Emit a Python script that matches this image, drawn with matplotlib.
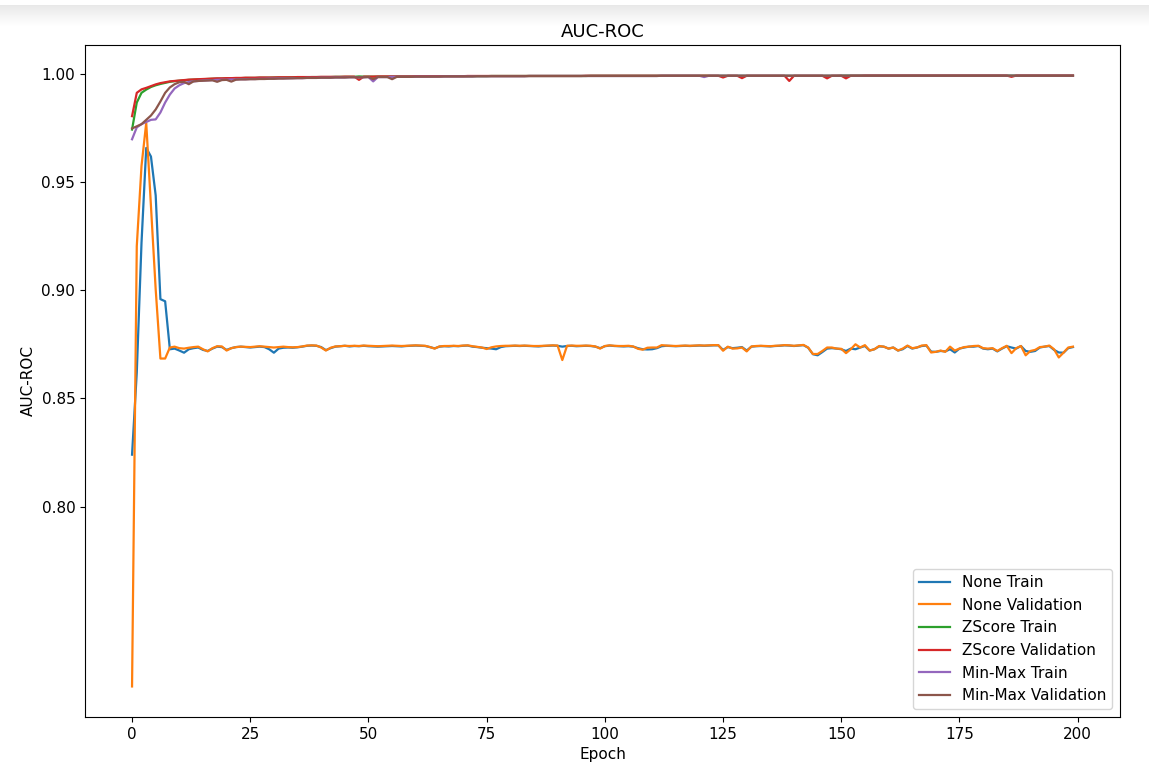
import numpy as np
import matplotlib
matplotlib.use("Agg")
import matplotlib.pyplot as plt

plt.rcParams['font.family'] = ['DejaVu Sans']

epochs = list(range(200))

none_train = [
    0.8240, 0.8620, 0.9220, 0.9660, 0.9620, 0.9440, 0.8960, 0.8950, 0.8728, 0.8731,
    0.8722, 0.8712, 0.8728, 0.8733, 0.8736, 0.8725, 0.8720, 0.8731, 0.8740, 0.8738,
    0.8725, 0.8733, 0.8738, 0.8740, 0.8738, 0.8736, 0.8738, 0.8740, 0.8738, 0.8728,
    0.8712, 0.8731, 0.8735, 0.8736, 0.8735, 0.8737, 0.8740, 0.8744, 0.8745, 0.8744,
    0.8738, 0.8724, 0.8733, 0.8740, 0.8742, 0.8744, 0.8741, 0.8743, 0.8742, 0.8744,
    0.8742, 0.8741, 0.8740, 0.8741, 0.8742, 0.8743, 0.8742, 0.8741, 0.8743, 0.8744,
    0.8745, 0.8744, 0.8743, 0.8738, 0.8732, 0.8740, 0.8742, 0.8741, 0.8743, 0.8742,
    0.8744, 0.8745, 0.8740, 0.8738, 0.8735, 0.8733, 0.8731, 0.8728, 0.8738, 0.8742,
    0.8743, 0.8744, 0.8743, 0.8744, 0.8743, 0.8742, 0.8741, 0.8743, 0.8744, 0.8745,
    0.8744, 0.8740, 0.8743, 0.8744, 0.8742, 0.8743, 0.8744, 0.8743, 0.8740, 0.8733,
    0.8742, 0.8745, 0.8743, 0.8742, 0.8741, 0.8742, 0.8740, 0.8733, 0.8728, 0.8727,
    0.8728, 0.8733, 0.8742, 0.8744, 0.8743, 0.8742, 0.8743, 0.8744, 0.8743, 0.8744,
    0.8745, 0.8744, 0.8745, 0.8746, 0.8746, 0.8725, 0.8738, 0.8733, 0.8735, 0.8738,
    0.8722, 0.8740, 0.8742, 0.8743, 0.8742, 0.8741, 0.8743, 0.8744, 0.8746, 0.8745,
    0.8743, 0.8745, 0.8747, 0.8735, 0.8705, 0.8700, 0.8715, 0.8731, 0.8733, 0.8731,
    0.8728, 0.8720, 0.8731, 0.8728, 0.8736, 0.8743, 0.8722, 0.8728, 0.8741, 0.8740,
    0.8731, 0.8736, 0.8722, 0.8728, 0.8743, 0.8731, 0.8736, 0.8743, 0.8745, 0.8717,
    0.8716, 0.8720, 0.8718, 0.8728, 0.8713, 0.8731, 0.8736, 0.8740, 0.8740, 0.8743,
    0.8731, 0.8728, 0.8731, 0.8718, 0.8731, 0.8742, 0.8736, 0.8731, 0.8743, 0.8720,
    0.8716, 0.8720, 0.8736, 0.8740, 0.8743, 0.8725, 0.8713, 0.8712, 0.8733, 0.8738,
]

none_val = [
    0.7167, 0.9205, 0.9576, 0.9776, 0.9390, 0.9005, 0.8685, 0.8685, 0.8736, 0.8740,
    0.8733, 0.8731, 0.8735, 0.8738, 0.8740, 0.8728, 0.8718, 0.8733, 0.8742, 0.8741,
    0.8722, 0.8733, 0.8738, 0.8740, 0.8739, 0.8738, 0.8740, 0.8742, 0.8740, 0.8738,
    0.8736, 0.8738, 0.8740, 0.8738, 0.8737, 0.8738, 0.8741, 0.8745, 0.8746, 0.8745,
    0.8736, 0.8722, 0.8735, 0.8741, 0.8742, 0.8744, 0.8743, 0.8744, 0.8743, 0.8745,
    0.8744, 0.8743, 0.8742, 0.8743, 0.8744, 0.8745, 0.8744, 0.8743, 0.8744, 0.8745,
    0.8746, 0.8745, 0.8744, 0.8738, 0.8731, 0.8741, 0.8743, 0.8743, 0.8744, 0.8743,
    0.8745, 0.8746, 0.8742, 0.8739, 0.8736, 0.8729, 0.8737, 0.8741, 0.8743, 0.8744,
    0.8744, 0.8745, 0.8744, 0.8745, 0.8744, 0.8743, 0.8743, 0.8744, 0.8745, 0.8746,
    0.8745, 0.8678, 0.8744, 0.8745, 0.8744, 0.8744, 0.8745, 0.8744, 0.8741, 0.8731,
    0.8743, 0.8746, 0.8744, 0.8743, 0.8743, 0.8744, 0.8741, 0.8730, 0.8726, 0.8735,
    0.8736, 0.8736, 0.8747, 0.8745, 0.8744, 0.8743, 0.8744, 0.8745, 0.8744, 0.8745,
    0.8746, 0.8745, 0.8746, 0.8747, 0.8747, 0.8721, 0.8740, 0.8731, 0.8732, 0.8736,
    0.8718, 0.8741, 0.8743, 0.8744, 0.8743, 0.8742, 0.8744, 0.8745, 0.8747, 0.8746,
    0.8744, 0.8746, 0.8748, 0.8736, 0.8706, 0.8706, 0.8720, 0.8736, 0.8736, 0.8731,
    0.8730, 0.8710, 0.8728, 0.8751, 0.8736, 0.8747, 0.8722, 0.8728, 0.8743, 0.8740,
    0.8731, 0.8736, 0.8722, 0.8731, 0.8745, 0.8733, 0.8736, 0.8745, 0.8747, 0.8713,
    0.8716, 0.8722, 0.8716, 0.8740, 0.8722, 0.8731, 0.8738, 0.8740, 0.8743, 0.8744,
    0.8733, 0.8731, 0.8733, 0.8720, 0.8733, 0.8744, 0.8710, 0.8733, 0.8743, 0.8700,
    0.8720, 0.8725, 0.8738, 0.8740, 0.8745, 0.8728, 0.8690, 0.8712, 0.8736, 0.8740,
]

zscore_train = [
    0.9745, 0.9870, 0.9915, 0.9930, 0.9942, 0.9950, 0.9956, 0.9961, 0.9966, 0.9969,
    0.9971, 0.9973, 0.9975, 0.9976, 0.9977, 0.9978, 0.9979, 0.9980, 0.9981, 0.9981,
    0.9982, 0.9982, 0.9983, 0.9983, 0.9984, 0.9984, 0.9984, 0.9985, 0.9985, 0.9985,
    0.9986, 0.9986, 0.9986, 0.9986, 0.9987, 0.9987, 0.9987, 0.9987, 0.9988, 0.9988,
    0.9988, 0.9988, 0.9988, 0.9989, 0.9989, 0.9989, 0.9989, 0.9989, 0.9991, 0.9990,
    0.9990, 0.9990, 0.9990, 0.9990, 0.9990, 0.9991, 0.9991, 0.9991, 0.9991, 0.9991,
    0.9991, 0.9991, 0.9991, 0.9991, 0.9992, 0.9992, 0.9992, 0.9992, 0.9992, 0.9992,
    0.9992, 0.9992, 0.9992, 0.9992, 0.9992, 0.9992, 0.9993, 0.9993, 0.9993, 0.9993,
    0.9993, 0.9993, 0.9993, 0.9993, 0.9993, 0.9993, 0.9993, 0.9993, 0.9993, 0.9993,
    0.9993, 0.9993, 0.9993, 0.9993, 0.9993, 0.9993, 0.9993, 0.9994, 0.9994, 0.9994,
    0.9994, 0.9994, 0.9994, 0.9994, 0.9994, 0.9994, 0.9994, 0.9994, 0.9994, 0.9994,
    0.9994, 0.9994, 0.9994, 0.9994, 0.9994, 0.9994, 0.9994, 0.9994, 0.9994, 0.9994,
    0.9994, 0.9994, 0.9994, 0.9994, 0.9994, 0.9994, 0.9994, 0.9994, 0.9994, 0.9994,
    0.9994, 0.9994, 0.9994, 0.9994, 0.9994, 0.9994, 0.9994, 0.9994, 0.9994, 0.9994,
    0.9994, 0.9994, 0.9994, 0.9994, 0.9994, 0.9994, 0.9994, 0.9994, 0.9994, 0.9994,
    0.9995, 0.9995, 0.9995, 0.9995, 0.9995, 0.9995, 0.9995, 0.9995, 0.9995, 0.9995,
    0.9995, 0.9995, 0.9995, 0.9995, 0.9995, 0.9995, 0.9995, 0.9995, 0.9995, 0.9995,
    0.9995, 0.9995, 0.9995, 0.9995, 0.9995, 0.9995, 0.9995, 0.9995, 0.9995, 0.9995,
    0.9995, 0.9995, 0.9995, 0.9995, 0.9995, 0.9995, 0.9995, 0.9995, 0.9995, 0.9995,
    0.9995, 0.9995, 0.9995, 0.9995, 0.9995, 0.9995, 0.9995, 0.9995, 0.9995, 0.9995,
]

zscore_val = [
    0.9807, 0.9915, 0.9931, 0.9938, 0.9946, 0.9954, 0.9960, 0.9964, 0.9968, 0.9970,
    0.9972, 0.9974, 0.9976, 0.9977, 0.9978, 0.9979, 0.9980, 0.9981, 0.9982, 0.9982,
    0.9983, 0.9983, 0.9984, 0.9984, 0.9985, 0.9985, 0.9985, 0.9986, 0.9986, 0.9986,
    0.9986, 0.9987, 0.9987, 0.9987, 0.9987, 0.9988, 0.9988, 0.9988, 0.9988, 0.9988,
    0.9989, 0.9989, 0.9989, 0.9989, 0.9989, 0.9990, 0.9990, 0.9990, 0.9975, 0.9990,
    0.9990, 0.9990, 0.9991, 0.9991, 0.9991, 0.9991, 0.9991, 0.9991, 0.9991, 0.9991,
    0.9992, 0.9992, 0.9992, 0.9992, 0.9992, 0.9992, 0.9992, 0.9992, 0.9992, 0.9992,
    0.9992, 0.9993, 0.9993, 0.9993, 0.9993, 0.9993, 0.9993, 0.9993, 0.9993, 0.9993,
    0.9993, 0.9993, 0.9993, 0.9993, 0.9993, 0.9993, 0.9993, 0.9993, 0.9993, 0.9993,
    0.9993, 0.9993, 0.9993, 0.9993, 0.9993, 0.9993, 0.9994, 0.9994, 0.9994, 0.9994,
    0.9994, 0.9994, 0.9994, 0.9994, 0.9994, 0.9994, 0.9994, 0.9994, 0.9994, 0.9994,
    0.9994, 0.9994, 0.9994, 0.9994, 0.9994, 0.9994, 0.9994, 0.9994, 0.9994, 0.9994,
    0.9994, 0.9994, 0.9994, 0.9994, 0.9994, 0.9986, 0.9994, 0.9994, 0.9994, 0.9983,
    0.9994, 0.9994, 0.9994, 0.9994, 0.9994, 0.9994, 0.9994, 0.9994, 0.9994, 0.9970,
    0.9994, 0.9994, 0.9994, 0.9994, 0.9994, 0.9994, 0.9994, 0.9982, 0.9994, 0.9994,
    0.9994, 0.9982, 0.9994, 0.9994, 0.9994, 0.9995, 0.9995, 0.9995, 0.9995, 0.9995,
    0.9995, 0.9995, 0.9995, 0.9995, 0.9995, 0.9995, 0.9995, 0.9995, 0.9995, 0.9995,
    0.9995, 0.9995, 0.9995, 0.9995, 0.9995, 0.9995, 0.9995, 0.9995, 0.9995, 0.9995,
    0.9995, 0.9995, 0.9995, 0.9995, 0.9995, 0.9995, 0.9989, 0.9995, 0.9995, 0.9995,
    0.9995, 0.9995, 0.9995, 0.9995, 0.9995, 0.9995, 0.9995, 0.9995, 0.9995, 0.9995,
]

minmax_train = [
    0.9700, 0.9755, 0.9770, 0.9780, 0.9790, 0.9792, 0.9824, 0.9870, 0.9907, 0.9935,
    0.9950, 0.9960, 0.9965, 0.9968, 0.9970, 0.9972, 0.9973, 0.9974, 0.9975, 0.9976,
    0.9976, 0.9977, 0.9977, 0.9978, 0.9978, 0.9979, 0.9979, 0.9980, 0.9980, 0.9981,
    0.9981, 0.9982, 0.9982, 0.9982, 0.9983, 0.9983, 0.9983, 0.9984, 0.9984, 0.9984,
    0.9985, 0.9985, 0.9985, 0.9986, 0.9986, 0.9986, 0.9987, 0.9987, 0.9987, 0.9987,
    0.9988, 0.9968, 0.9988, 0.9988, 0.9988, 0.9989, 0.9989, 0.9989, 0.9989, 0.9989,
    0.9990, 0.9990, 0.9990, 0.9990, 0.9990, 0.9990, 0.9991, 0.9991, 0.9991, 0.9991,
    0.9991, 0.9991, 0.9991, 0.9992, 0.9992, 0.9992, 0.9992, 0.9992, 0.9992, 0.9992,
    0.9992, 0.9992, 0.9992, 0.9992, 0.9993, 0.9993, 0.9993, 0.9993, 0.9993, 0.9993,
    0.9993, 0.9993, 0.9993, 0.9993, 0.9993, 0.9993, 0.9993, 0.9993, 0.9993, 0.9993,
    0.9993, 0.9993, 0.9993, 0.9993, 0.9993, 0.9993, 0.9993, 0.9993, 0.9993, 0.9993,
    0.9993, 0.9993, 0.9994, 0.9994, 0.9994, 0.9994, 0.9994, 0.9994, 0.9994, 0.9994,
    0.9994, 0.9988, 0.9994, 0.9994, 0.9994, 0.9994, 0.9994, 0.9994, 0.9994, 0.9994,
    0.9994, 0.9994, 0.9994, 0.9994, 0.9994, 0.9994, 0.9994, 0.9994, 0.9994, 0.9994,
    0.9994, 0.9994, 0.9994, 0.9994, 0.9994, 0.9994, 0.9994, 0.9994, 0.9994, 0.9994,
    0.9994, 0.9994, 0.9994, 0.9994, 0.9994, 0.9994, 0.9994, 0.9994, 0.9994, 0.9994,
    0.9994, 0.9994, 0.9994, 0.9994, 0.9994, 0.9994, 0.9994, 0.9994, 0.9994, 0.9994,
    0.9994, 0.9994, 0.9994, 0.9994, 0.9994, 0.9994, 0.9994, 0.9994, 0.9994, 0.9994,
    0.9994, 0.9994, 0.9994, 0.9994, 0.9994, 0.9994, 0.9994, 0.9994, 0.9994, 0.9994,
    0.9994, 0.9994, 0.9994, 0.9994, 0.9994, 0.9994, 0.9994, 0.9994, 0.9994, 0.9994,
]

minmax_val = [
    0.9750, 0.9760, 0.9770, 0.9790, 0.9810, 0.9838, 0.9875, 0.9915, 0.9940, 0.9955,
    0.9964, 0.9966, 0.9955, 0.9968, 0.9970, 0.9971, 0.9972, 0.9973, 0.9966, 0.9974,
    0.9975, 0.9967, 0.9976, 0.9977, 0.9977, 0.9978, 0.9978, 0.9979, 0.9979, 0.9980,
    0.9980, 0.9981, 0.9981, 0.9982, 0.9982, 0.9983, 0.9983, 0.9984, 0.9984, 0.9984,
    0.9985, 0.9985, 0.9985, 0.9986, 0.9986, 0.9986, 0.9987, 0.9987, 0.9987, 0.9987,
    0.9988, 0.9978, 0.9988, 0.9988, 0.9988, 0.9978, 0.9989, 0.9989, 0.9989, 0.9989,
    0.9990, 0.9990, 0.9990, 0.9990, 0.9990, 0.9990, 0.9991, 0.9991, 0.9991, 0.9991,
    0.9991, 0.9991, 0.9991, 0.9992, 0.9992, 0.9992, 0.9992, 0.9992, 0.9992, 0.9992,
    0.9992, 0.9992, 0.9992, 0.9992, 0.9993, 0.9993, 0.9993, 0.9993, 0.9993, 0.9993,
    0.9993, 0.9993, 0.9993, 0.9993, 0.9993, 0.9993, 0.9993, 0.9993, 0.9993, 0.9993,
    0.9993, 0.9993, 0.9993, 0.9993, 0.9993, 0.9993, 0.9993, 0.9993, 0.9993, 0.9993,
    0.9993, 0.9993, 0.9994, 0.9994, 0.9994, 0.9994, 0.9994, 0.9994, 0.9994, 0.9994,
    0.9994, 0.9994, 0.9994, 0.9994, 0.9994, 0.9994, 0.9994, 0.9994, 0.9994, 0.9994,
    0.9994, 0.9994, 0.9994, 0.9994, 0.9994, 0.9994, 0.9994, 0.9994, 0.9994, 0.9994,
    0.9994, 0.9994, 0.9994, 0.9994, 0.9994, 0.9994, 0.9994, 0.9994, 0.9994, 0.9994,
    0.9994, 0.9994, 0.9994, 0.9994, 0.9994, 0.9994, 0.9994, 0.9994, 0.9994, 0.9994,
    0.9994, 0.9994, 0.9994, 0.9994, 0.9994, 0.9994, 0.9994, 0.9994, 0.9994, 0.9994,
    0.9994, 0.9994, 0.9994, 0.9994, 0.9994, 0.9994, 0.9994, 0.9994, 0.9994, 0.9994,
    0.9994, 0.9994, 0.9994, 0.9994, 0.9994, 0.9994, 0.9994, 0.9994, 0.9994, 0.9994,
    0.9994, 0.9994, 0.9994, 0.9994, 0.9994, 0.9994, 0.9994, 0.9994, 0.9994, 0.9994,
]

series = [
    ("None Train", none_train),
    ("None Validation", none_val),
    ("ZScore Train", zscore_train),
    ("ZScore Validation", zscore_val),
    ("Min-Max Train", minmax_train),
    ("Min-Max Validation", minmax_val),
]
y_ticks = [0.80, 0.85, 0.90, 0.95, 1.00]

fig = plt.figure(figsize=(11.49, 7.65), dpi=100)

# soft grey band along the top edge of the canvas
band = fig.add_axes([0.0, 1 - 26 / 765, 1.0, 21 / 765], zorder=-5)
grad = np.linspace(0.91, 1.0, 64).reshape(-1, 1)
band.imshow(np.repeat(grad, 2, axis=1), cmap='gray', vmin=0, vmax=1,
            aspect='auto', extent=[0, 1, 0, 1], interpolation='bilinear')
band.set_axis_off()

ax = fig.add_axes([85 / 1149, 1 - 717 / 765, (1120 - 85) / 1149, (717 - 45) / 765])
for name, vals in series:
    ax.plot(epochs, vals, label=name, linewidth=1.6)

ax.set_yticks(y_ticks)
ax.set_yticklabels([f"{t:.2f}" for t in y_ticks])
ax.tick_params(labelsize=11)
ax.set_title("AUC-ROC", fontsize=13)
ax.set_xlabel("Epoch", fontsize=11)
ax.set_ylabel("AUC-ROC", fontsize=11)
ax.legend(loc="lower right", fontsize=11)

fig.savefig("out.png", dpi=100)
